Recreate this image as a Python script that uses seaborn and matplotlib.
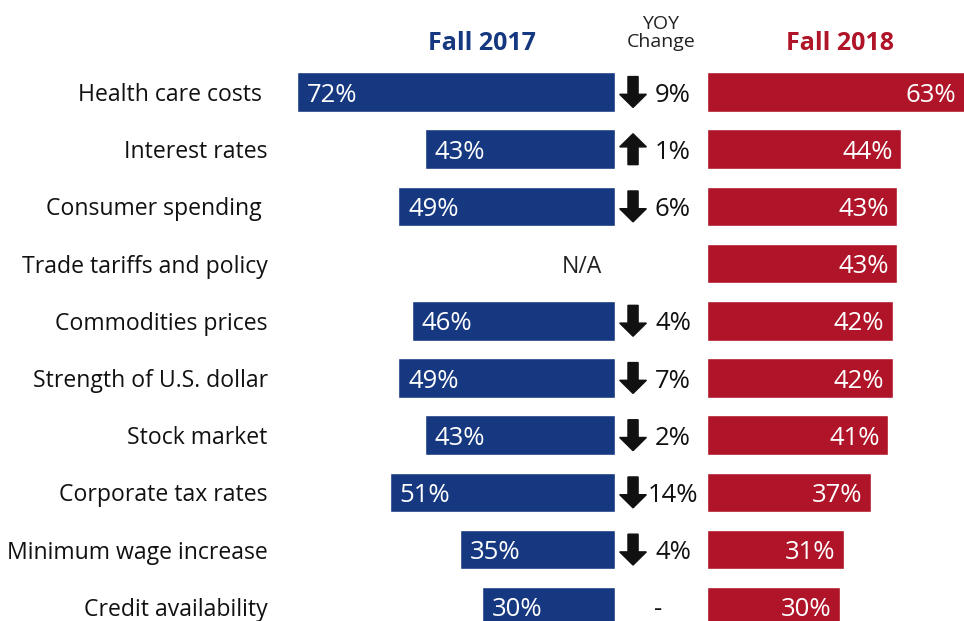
import numpy as np
import pandas as pd
import seaborn as sns
import matplotlib.pyplot as plt

categories = ['Health care costs ', 'Interest rates', 'Consumer spending ',
              'Trade tariffs and policy', 'Commodities prices',
              'Strength of U.S. dollar', 'Stock market', 'Corporate tax rates',
              'Minimum wage increase', 'Credit availability']
fall_2017 = [72, 43, 49, np.nan, 46, 49, 43, 51, 35, 30]
fall_2018 = [63, 44, 43, 43, 42, 42, 41, 37, 31, 30]
yoy_change = ['9%', '1%', '6%', '', '4%', '7%', '2%', '14%', '4%', '-']
yoy_dir = ['down', 'up', 'down', '', 'down', 'down', 'down', 'down', 'down', '']

BLUE = '#163880'
RED = '#AF1429'
FS_CAT = 16.6
FS_NUM = 18.5

sns.set_style('white')
plt.rcParams['font.family'] = ['Open Sans', 'DejaVu Sans']

df = pd.DataFrame({'cat': categories, 'f17': fall_2017, 'f18': fall_2018})

W, H = 964, 621
PX = 4.42  # pixels per percent
top = 63.4
fig = plt.figure(figsize=(W / 100, H / 100), dpi=100)


def px_axes(x0, x1):
    return fig.add_axes([x0 / W, 0, (x1 - x0) / W, (H - top) / H])


ylim = ((H - 92) / 57.2, -0.5)

# left: Fall 2017
ax_l = px_axes(290, 615)
sns.barplot(data=df, x='f17', y='cat', order=categories, orient='h',
            color=BLUE, saturation=1, width=0.69, ax=ax_l)
ax_l.set_xlim(325 / PX, 0)
ax_l.set_ylim(*ylim)
for i, v in enumerate(fall_2017):
    if np.isnan(v):
        ax_l.text(7.5, i, 'N/A', ha='center', va='center_baseline', fontsize=FS_CAT, color='#222222')
    else:
        ax_l.annotate(f'{v:.0f}%', (v, i), xytext=(7, 0), textcoords='offset points',
                      ha='left', va='center_baseline', color='white', fontsize=FS_NUM)
ax_l.set_xlabel('')
ax_l.set_ylabel('')
ax_l.set_xticks([])
ax_l.tick_params(axis='y', length=0, pad=16, labelsize=FS_CAT, labelcolor='#111111')

# middle: YOY change
ax_m = px_axes(615, 707)
ax_m.set_xlim(0, 1)
ax_m.set_ylim(*ylim)
for i, (txt, d) in enumerate(zip(yoy_change, yoy_dir)):
    if d:
        L = 0.54
        if d == 'down':
            y0, dy = i - L / 2, L
        else:
            y0, dy = i + L / 2, -L
        ax_m.arrow(0.196, y0, 0, dy, width=0.11, head_width=0.29, head_length=0.23,
                   length_includes_head=True, color='#111111')
        ax_m.text(0.63, i, txt, ha='center', va='center_baseline', fontsize=FS_NUM, color='#111111')
    elif txt:
        ax_m.text(0.47, i, txt, ha='center', va='center_baseline', fontsize=FS_NUM, color='#111111')
ax_m.axis('off')

# right: Fall 2018
ax_r = px_axes(707, 964)
sns.barplot(data=df, x='f18', y='cat', order=categories, orient='h',
            color=RED, saturation=1, width=0.69, ax=ax_r)
xmax = 257 / PX
ax_r.set_xlim(0, xmax)
ax_r.set_ylim(*ylim)
for i, v in enumerate(fall_2018):
    ax_r.annotate(f'{v}%', (min(v, xmax), i), xytext=(-6, 0), textcoords='offset points',
                  ha='right', va='center_baseline', color='white', fontsize=FS_NUM)
ax_r.axis('off')

for ax in (ax_l, ax_m, ax_r):
    for s in ax.spines.values():
        s.set_visible(False)

fig.text(482 / W, 1 - 43 / H, 'Fall 2017', ha='center', va='center',
         fontsize=18, fontweight='bold', color=BLUE)
fig.text(840 / W, 1 - 43 / H, 'Fall 2018', ha='center', va='center',
         fontsize=18, fontweight='bold', color=RED)
fig.text(661 / W, 1 - 33 / H, 'YOY\nChange', ha='center', va='center',
         fontsize=14, color='#222222', linespacing=0.95)

fig.savefig('out.png', dpi=100)
